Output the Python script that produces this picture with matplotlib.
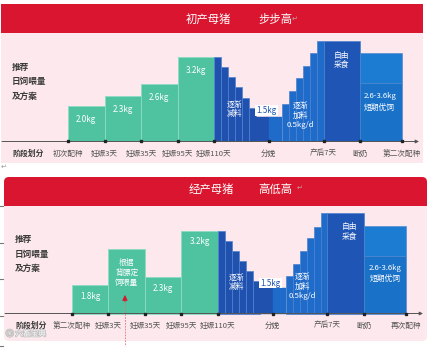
import matplotlib
matplotlib.use('Agg')
import matplotlib.pyplot as plt
import matplotlib.patheffects as pe
from matplotlib.patches import Rectangle, FancyBboxPatch

plt.rcParams['font.family'] = ['Noto Sans CJK SC', 'DejaVu Sans']

# ---------------- data ----------------
stage_u = [0, 1, 2, 3, 4, 5.5, 7, 8, 9.15]          # stage positions along the cycle
step_w = 0.19                                        # width of one step of gradual change

labels1 = ['初次配种', '妊娠3天', '妊娠35天', '妊娠95天', '妊娠110天', '分娩', '产后7天', '断奶', '第二次配种']
labels2 = ['第二次配种', '妊娠3天', '妊娠35天', '妊娠95天', '妊娠110天', '分娩', '产后7天', '断奶', '再次配种']

# panel 1 : 初产母猪 步步高 (display levels)
green1 = [3.5, 4.5, 5.7, 8.45]
green_text1 = ['2.0kg', '2.3kg', '2.6kg', '3.2kg']
decline1 = [8.45, 7.42, 6.42, 5.42, 4.38, 3.38]
farrow1 = 2.48
rise1 = [3.78, 5.05, 6.35, 7.58, 8.82, 10.08]
free1 = 10.08
flush1 = 8.82
flush_split1 = 5.82

# panel 2 : 经产母猪 高低高
green2 = [2.85, 6.42, 3.68, 8.3]
green_text2 = ['1.8kg', '根据\n背膘定\n饲喂量', '2.3kg', '3.2kg']
decline2 = [8.3, 7.28, 6.28, 5.25, 4.25, 3.25]
farrow2 = 2.55
rise2 = [3.75, 4.98, 6.25, 7.52, 8.68, 10.02]
free2 = 10.02
flush2 = 8.75
flush_split2 = 5.75

farrow_text = '1.5kg'
decline_text = '逐渐\n减料'
rise_text = '逐渐\n加料\n0.5kg/d'
free_text = '自由\n采食'
flush_text = '2.6-3.6kg\n短期优饲'

# ---------------- style ----------------
RED = '#d9152f'
PINK = '#fde8ed'
GREEN = '#4fc2a0'
GREEN_EDGE = '#8edcc4'
DBLUE = '#2151ae'
LBLUE = '#1f6bca'
BLUE_EDGE = '#4c82cf'
FREE = '#1f55b4'
FLUSH_TOP = '#1c7cd2'
FLUSH_BOT = '#1a72c8'
TXT = '#3a3a3a'

fig = plt.figure(figsize=(4.29, 3.48), dpi=100)
fig.patch.set_facecolor('white')

bg = fig.add_axes([0, 0, 1, 1], zorder=0)
bg.set_xlim(0, 429)
bg.set_ylim(348, 0)
bg.axis('off')

# panel 1 background
bg.add_patch(Rectangle((1, 33), 422, 130, fc=PINK, ec='none'))
bg.add_patch(Rectangle((1, 4), 422, 29, fc=RED, ec='none'))
# panel 2 background
bg.add_patch(FancyBboxPatch((4, 177), 423, 164, boxstyle='round,pad=0,rounding_size=5',
                            fc=PINK, ec='none'))
bg.add_patch(FancyBboxPatch((4, 177), 423, 29, boxstyle='round,pad=0,rounding_size=5',
                            fc=RED, ec='none'))
bg.add_patch(Rectangle((4, 196), 423, 10, fc=RED, ec='none'))

# titles
tkw = dict(color='white', fontsize=8.2, va='center', ha='left')
bg.text(186, 19, '初产母猪', **tkw)
bg.text(258, 19, '步步高', **tkw)
bg.text(292, 19, '↵', color='#c9a0a0', fontsize=5, va='center', ha='left')
bg.text(189, 189, '经产母猪', **tkw)
bg.text(258, 189, '高低高', **tkw)
bg.text(297, 188, '↵', color='#c9a0a0', fontsize=5, va='center', ha='left')
bg.text(1, 167, '↵', color='#999999', fontsize=5, va='center', ha='left')

# selection handle marks at left edge
for yy in [206, 243, 279, 316, 346]:
    bg.plot([0, 3], [yy, yy], color='#777777', lw=0.8)

# watermark
bg.text(6, 334, 'ⓔ 六畜宝典', color='white', alpha=0.9, fontsize=5.5, va='center', ha='left',
        path_effects=[pe.withStroke(linewidth=1.2, foreground='#bdbdbd')])


def draw_panel(ax, x0_px, base_px, top_px, bot_px, left_px, right_px,
               green, green_text, decline, farrow, rise, free, flush, flush_split, labels,
               green_label_off, text_pos, arrow=False):
    unit = 36.5
    ax.set_xlim((left_px - x0_px) / unit, (right_px - x0_px) / unit)
    ax.set_ylim((base_px - bot_px) / 10, (base_px - top_px) / 10)
    ax.axis('off')
    ax.patch.set_alpha(0)

    # green stage bars
    ax.bar(stage_u[:4], green, width=1, align='edge', color=GREEN, edgecolor=GREEN_EDGE,
           linewidth=0.6, zorder=2)
    for x, h, t in zip(stage_u[:4], green, green_text):
        if '\n' in t:
            continue
        ax.text(x + 0.5, h - green_label_off, t, color='white', fontsize=5.8,
                ha='center', va='center', zorder=4)

    # gradual decline before farrowing
    xd = [stage_u[4] + i * step_w for i in range(len(decline))]
    ax.bar(xd, decline, width=step_w, align='edge', color=DBLUE, edgecolor=BLUE_EDGE,
           linewidth=0.5, zorder=2)
    # farrowing plateau
    f_left = stage_u[4] + len(decline) * step_w
    f_right = stage_u[6] - len(rise) * step_w
    ax.bar([f_left], [farrow], width=stage_u[5] - f_left, align='edge', color=DBLUE,
           edgecolor=DBLUE, linewidth=0.3, zorder=2)
    ax.bar([stage_u[5]], [farrow], width=f_right - stage_u[5], align='edge', color=LBLUE,
           edgecolor=LBLUE, linewidth=0.3, zorder=2)
    # gradual increase after farrowing
    xr = [f_right + i * step_w for i in range(len(rise))]
    ax.bar(xr, rise, width=step_w, align='edge', color=LBLUE, edgecolor=BLUE_EDGE,
           linewidth=0.5, zorder=2)
    # free feeding
    ax.bar([stage_u[6]], [free], width=stage_u[7] - stage_u[6], align='edge', color=FREE,
           edgecolor=BLUE_EDGE, linewidth=0.5, zorder=2)
    # flushing
    ax.bar([stage_u[7]], [flush_split], width=stage_u[8] - stage_u[7], align='edge',
           color=FLUSH_BOT, edgecolor=BLUE_EDGE, linewidth=0.4, zorder=2)
    ax.bar([stage_u[7]], [flush - flush_split], bottom=[flush_split],
           width=stage_u[8] - stage_u[7], align='edge', color=FLUSH_TOP,
           edgecolor=BLUE_EDGE, linewidth=0.4, zorder=2)

    # baseline with arrow and stage ticks
    ax.annotate('', xy=((419 - x0_px + (right_px - 423)) / unit, 0),
                xytext=((left_px + 1 - x0_px) / unit, 0),
                arrowprops=dict(arrowstyle='-|>', color='#555555', lw=0.7,
                                mutation_scale=5, shrinkA=0, shrinkB=0), zorder=3)
    ax.plot(stage_u, [0] * len(stage_u), 's', color='#222222', ms=1.8, zorder=5)

    lx = (left_px + 11 - x0_px) / unit
    ax.text(lx, -1.2, '阶段划分', fontsize=5.7, fontweight='bold', color=TXT,
            ha='left', va='center')
    for u, lab in zip(stage_u, labels):
        ax.text(u, -1.2, lab, fontsize=5.5, color='#555555', ha='center', va='center')
    for y, t in zip(text_pos['left'], ['推荐', '日饲喂量', '及方案']):
        ax.text(lx, y, t, fontsize=6.2, fontweight='bold', color=TXT, ha='left', va='center')

    kw = dict(color='white', fontsize=5.6, ha='center', va='center', zorder=4,
              linespacing=1.25)
    ax.text(*text_pos['decline'], decline_text, **kw)
    ax.text(*text_pos['rise'], rise_text, **kw)
    ax.text(*text_pos['free'], free_text, **kw)
    ax.text(*text_pos['flush'], flush_text, **dict(kw, linespacing=1.55))
    ax.text(*text_pos['farrow'], farrow_text, color='#1f55b0', fontsize=5.8, ha='center',
            va='center', zorder=4,
            bbox=dict(boxstyle='square,pad=0.12', fc='white', ec='none'))

    if arrow:
        ax.text(*text_pos['special'], green_text[1], color='white', fontsize=5.6,
                ha='center', va='center', linespacing=1.35, zorder=4)
        ax.plot([text_pos['arrow'][0]] * 2, [text_pos['arrow'][1], -3.2], ls=(0, (2, 1.5)),
                color='#e0707c', lw=0.6, clip_on=False, zorder=4)
        ax.annotate('', xy=(text_pos['arrow'][0], text_pos['arrow'][2]),
                    xytext=(text_pos['arrow'][0], text_pos['arrow'][1]),
                    arrowprops=dict(arrowstyle='-|>', color='#d9152f', lw=0.6,
                                    mutation_scale=8, shrinkA=0, shrinkB=0), zorder=5)


# panel 1 axes: pixels x 1..423, y 33..163, baseline at 141.5, first stage at x=68
ax1 = fig.add_axes([1 / 429, (348 - 163) / 348, 422 / 429, 130 / 348], zorder=1)
draw_panel(ax1, 68, 141.5, 33, 163, 1, 423,
           green1, green_text1, decline1, farrow1, rise1, free1, flush1, flush_split1, labels1,
           1.35,
           dict(left=[7.45, 6.05, 4.55], decline=(4.56, 3.2), rise=(6.37, 2.6),
                free=(7.49, 8.1), flush=(8.54, 3.95), farrow=(5.44, 3.08)))

# panel 2 axes: pixels x 4..427, y 206..341, baseline at 313.5, first stage at x=72
ax2 = fig.add_axes([4 / 429, (348 - 341) / 348, 423 / 429, 135 / 348], zorder=1)
draw_panel(ax2, 72, 313.5, 206, 341, 4, 427,
           green2, green_text2, decline2, farrow2, rise2, free2, flush2, flush_split2, labels2,
           1.15,
           dict(left=[7.38, 5.95, 4.52], decline=(4.50, 3.1), rise=(6.31, 2.68),
                free=(7.61, 8.15), flush=(8.57, 4.0), farrow=(5.44, 3.05),
                special=(1.5, 4.08), arrow=(1.45, 1.18, 1.85)), arrow=True)

fig.savefig('out.png', dpi=100)
